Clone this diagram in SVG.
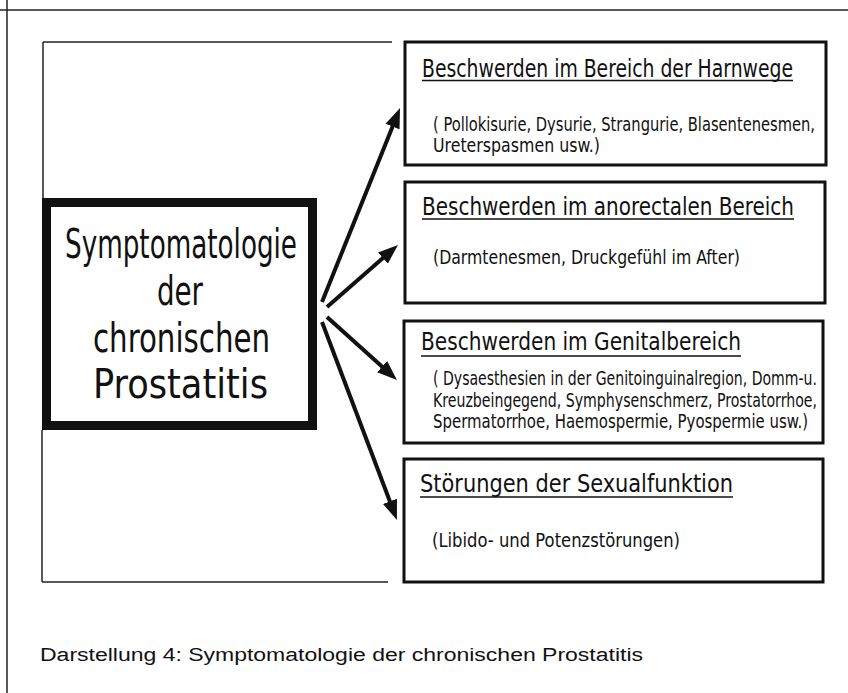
<svg xmlns="http://www.w3.org/2000/svg" width="848" height="693" viewBox="0 0 848 693">
<style>
.frame{fill:none;stroke:#222;stroke-width:1.5}
.box{fill:#fff;stroke:#111;stroke-width:3}
.main{fill:#fff;stroke:#111;stroke-width:9}
.t{font-family:"DejaVu Sans Condensed","Liberation Sans Narrow","Liberation Sans",sans-serif;fill:#111}
.big{font-size:40px}
.title{font-size:25px}
.body{font-size:19px}
.ul{stroke:#111;stroke-width:1.5}
.cap{font-family:"Liberation Sans",Arial,sans-serif;font-size:18px;fill:#111}
.arrow{stroke:#111;stroke-width:4;fill:none;marker-end:url(#ah)}
</style>
<defs>
<marker id="ah" viewBox="0 -8 20 16" markerWidth="20" markerHeight="16" refX="2" refY="0" orient="auto" markerUnits="userSpaceOnUse">
<path d="M0,-7.5 L20,0 L0,7.5 Z" fill="#111"/>
</marker>
</defs>
<rect width="848" height="693" fill="#fff"/>
<g id="page-frame" class="frame">
<line x1="0" y1="10" x2="848" y2="10"/>
<line x1="7" y1="0" x2="7" y2="693"/>
<line x1="43" y1="42" x2="392" y2="42"/>
<line x1="43" y1="42" x2="43" y2="198"/>
<line x1="42" y1="430" x2="42" y2="582"/>
<line x1="42" y1="582" x2="388" y2="582"/>
</g>
<g id="main">
<rect class="main" x="46.5" y="202.5" width="266" height="223"/>
<text class="t big" x="181" y="258" text-anchor="middle" textLength="232" lengthAdjust="spacingAndGlyphs">Symptomatologie</text>
<text class="t big" x="180" y="305" text-anchor="middle" textLength="46" lengthAdjust="spacingAndGlyphs">der</text>
<text class="t big" x="181.5" y="352" text-anchor="middle" textLength="177" lengthAdjust="spacingAndGlyphs">chronischen</text>
<text class="t big" x="180.5" y="398" text-anchor="middle" textLength="175" lengthAdjust="spacingAndGlyphs">Prostatitis</text>
</g>
<g id="harnwege">
<rect class="box" x="405" y="42" width="421" height="123"/>
<text class="t title" x="422" y="77" textLength="371" lengthAdjust="spacingAndGlyphs">Beschwerden im Bereich der Harnwege</text>
<line class="ul" x1="422" y1="80.5" x2="793" y2="80.5"/>
<text class="t body" x="433" y="131" textLength="382" lengthAdjust="spacingAndGlyphs">( Pollokisurie, Dysurie, Strangurie, Blasentenesmen,</text>
<text class="t body" x="433" y="152" textLength="167" lengthAdjust="spacingAndGlyphs">Ureterspasmen usw.)</text>
</g>
<g id="anorectal">
<rect class="box" x="405" y="182" width="420" height="121"/>
<text class="t title" x="422" y="215" textLength="372" lengthAdjust="spacingAndGlyphs">Beschwerden im anorectalen Bereich</text>
<line class="ul" x1="422" y1="219" x2="794" y2="219"/>
<text class="t body" x="433" y="264" textLength="307" lengthAdjust="spacingAndGlyphs">(Darmtenesmen, Druckgefühl im After)</text>
</g>
<g id="genital">
<rect class="box" x="404" y="321" width="419" height="122"/>
<text class="t title" x="421" y="350" textLength="320" lengthAdjust="spacingAndGlyphs">Beschwerden im Genitalbereich</text>
<line class="ul" x1="421" y1="356" x2="741" y2="356"/>
<text class="t body" x="433" y="385" textLength="384" lengthAdjust="spacingAndGlyphs">( Dysaesthesien in der Genitoinguinalregion, Domm-u.</text>
<text class="t body" x="433" y="407" textLength="384" lengthAdjust="spacingAndGlyphs">Kreuzbeingegend, Symphysenschmerz, Prostatorrhoe,</text>
<text class="t body" x="433" y="428" textLength="375" lengthAdjust="spacingAndGlyphs">Spermatorrhoe, Haemospermie, Pyospermie usw.)</text>
</g>
<g id="sexual">
<rect class="box" x="404" y="459" width="419" height="123"/>
<text class="t title" x="420" y="492" textLength="313" lengthAdjust="spacingAndGlyphs">Störungen der Sexualfunktion</text>
<line class="ul" x1="420" y1="497" x2="733" y2="497"/>
<text class="t body" x="432" y="547" textLength="248" lengthAdjust="spacingAndGlyphs">(Libido- und Potenzstörungen)</text>
</g>
<g id="connectors">
<line class="arrow" x1="322" y1="302" x2="393.3" y2="124.7"/>
<line class="arrow" x1="327" y1="307" x2="384.4" y2="256.8"/>
<line class="arrow" x1="327" y1="317" x2="383.6" y2="368"/>
<line class="arrow" x1="322" y1="322" x2="390.6" y2="503.2"/>
</g>
<g id="caption">
<text class="cap" x="40" y="661" textLength="603" lengthAdjust="spacingAndGlyphs">Darstellung 4: Symptomatologie der chronischen Prostatitis</text>
</g>
</svg>
